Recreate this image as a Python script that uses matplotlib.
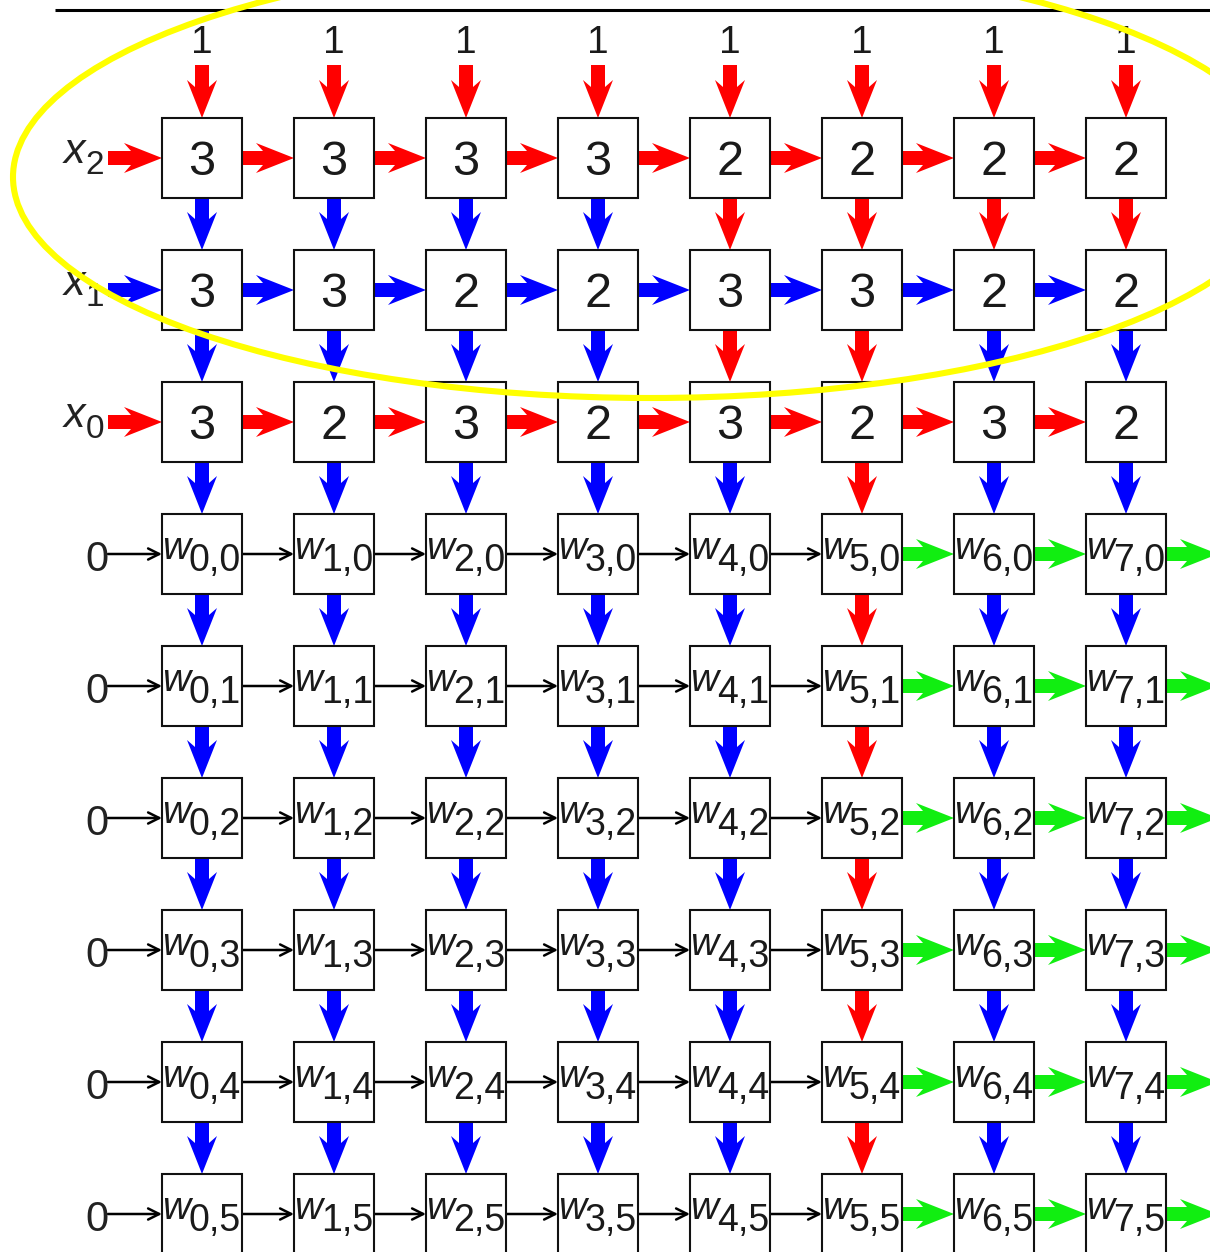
import numpy as np
import matplotlib.pyplot as plt
from matplotlib.patches import Rectangle, Ellipse, Polygon

# ---- 数据 ----
n_cols = 8
top_inputs = [1, 1, 1, 1, 1, 1, 1, 1]
x_names = ['2', '1', '0']                      # x_2, x_1, x_0
x_values = [
    [3, 3, 3, 3, 2, 2, 2, 2],
    [3, 3, 2, 2, 3, 3, 2, 2],
    [3, 2, 3, 2, 3, 2, 3, 2],
]
w_rows = [0, 1, 2, 3, 4, 5]
w_inputs = [0, 0, 0, 0, 0, 0]

# 竖直箭头颜色 (进入每一行): r 红, b 蓝
vert_colors = [
    'rrrrrrrr',
    'bbbbrrrr',
    'bbbbrrbb',
    'bbbbbrbb',
    'bbbbbrbb',
    'bbbbbrbb',
    'bbbbbrbb',
    'bbbbbrbb',
    'bbbbbrbb',
]
# 水平箭头颜色 (进入每一列 + 最右输出): k 细黑, g 绿
horiz_colors = [
    'rrrrrrrr',
    'bbbbbbbb',
    'rrrrrrrr',
] + ['kkkkkkggg'] * len(w_rows)

palette = {'r': '#ff0000', 'b': '#0000ff', 'g': '#11ee11', 'k': 'black'}

# ---- 布局 (像素 -> 网格单位) ----
X0, Y0, STEP = 202, 158, 132
W_PX, H_PX = 1210, 1252


def gx(px):
    return (px - X0) / STEP


def gy(py):
    return (py - Y0) / STEP


def d(px):
    return px / STEP


h = d(40)          # 方框半宽
sw = d(7)          # 箭杆半宽
hw = d(15)         # 箭头半宽
hl = d(38)         # 箭头长度
barb = d(7)


def thick_arrow(ax, x0, y0, x1, y1, color):
    s = np.array([x0, y0])
    e = np.array([x1, y1])
    u = (e - s) / np.linalg.norm(e - s)
    n = np.array([-u[1], u[0]])
    hb = e - u * hl
    pts = [s + n * sw, hb + u * barb + n * sw, hb + n * hw, e,
           hb - n * hw, hb + u * barb - n * sw, s - n * sw]
    ax.add_patch(Polygon(pts, closed=True, facecolor=color, edgecolor='none', zorder=2))


def thin_arrow(ax, x0, y0, x1, y1):
    ax.annotate('', xy=(x1, y1), xytext=(x0, y0),
                arrowprops=dict(arrowstyle='->', lw=1.8, color='black',
                                shrinkA=0, shrinkB=0, mutation_scale=20),
                zorder=2)


def draw_arrow(ax, code, x0, y0, x1, y1):
    if code == 'k':
        thin_arrow(ax, x0, y0, x1, y1)
    else:
        thick_arrow(ax, x0, y0, x1, y1, palette[code])


plt.rcParams['font.family'] = ['Liberation Sans', 'DejaVu Sans']

fig = plt.figure(figsize=(W_PX / 100, H_PX / 100), dpi=100)
ax = fig.add_axes([0, 0, 1, 1])
ax.set_xlim(gx(0), gx(W_PX))
ax.set_ylim(gy(H_PX), gy(0))
ax.axis('off')

n_rows = len(x_values) + len(w_rows)
txt = '#1a1a1a'

# 顶部横线
ax.plot([gx(55), gx(W_PX)], [gy(10), gy(10)], color='black', lw=2.2, solid_capstyle='butt')

# 顶部输入 "1"
for i, v in enumerate(top_inputs):
    ax.text(i, gy(53), str(v), fontsize=28, ha='center', va='baseline', color=txt)

# 方框
for j in range(n_rows):
    for i in range(n_cols):
        ax.add_patch(Rectangle((i - h, j - h), 2 * h, 2 * h, facecolor='white',
                               edgecolor='#111111', lw=1.5, zorder=3))

# 方框内容
for j, row in enumerate(x_values):
    for i, v in enumerate(row):
        ax.text(i, j + d(17), str(v), fontsize=35, ha='center', va='baseline',
                color=txt, zorder=4)
for r, k in enumerate(w_rows):
    j = len(x_values) + r
    for i in range(n_cols):
        ax.text(i - d(26), j + d(5), 'w', fontsize=28, style='italic',
                ha='center', va='baseline', color=txt, zorder=4)
        ax.text(i + d(13), j + d(17), f'{i},{k}', fontsize=27,
                ha='center', va='baseline', color=txt, zorder=4)

# 左侧标签
for j, name in enumerate(x_names):
    ax.text(gx(74), j + d(5), 'x', fontsize=31, style='italic',
            ha='center', va='baseline', color='#222222')
    ax.text(gx(95), j + d(16), name, fontsize=24,
            ha='center', va='baseline', color='#222222')
for r, v in enumerate(w_inputs):
    j = len(x_values) + r
    ax.text(gx(97), j + d(17), str(v), fontsize=30, ha='center', va='baseline',
            color='#222222')

# 竖直箭头
for j, codes in enumerate(vert_colors):
    for i, c in enumerate(codes):
        y_start = gy(65) if j == 0 else j - 1 + h
        draw_arrow(ax, c, i, y_start, i, j - h)

# 水平箭头
for j, codes in enumerate(horiz_colors):
    for i, c in enumerate(codes):
        x_start = gx(108) if i == 0 else i - 1 + h
        draw_arrow(ax, c, x_start, j, i - h, j)

# 黄色椭圆
ax.add_patch(Ellipse((gx(650), gy(177)), d(1274), d(442), fill=False,
                     edgecolor='#ffff00', lw=4.4, zorder=10))

fig.savefig('out.png', dpi=100)
